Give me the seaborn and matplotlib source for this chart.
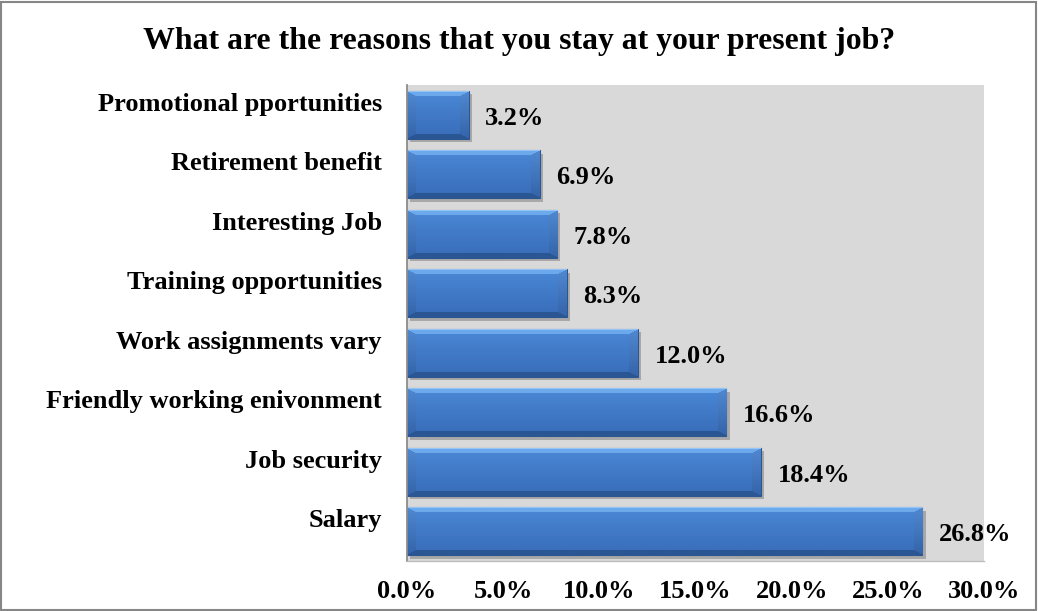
import numpy as np
import pandas as pd
import matplotlib
matplotlib.use("Agg")
import matplotlib.pyplot as plt
import matplotlib.patheffects as pe
from matplotlib.transforms import ScaledTranslation
from matplotlib.patches import Rectangle
import seaborn as sns

# Survey results
reasons = [
    "Promotional pportunities",
    "Retirement benefit",
    "Interesting Job",
    "Training opportunities",
    "Work assignments vary",
    "Friendly working enivonment",
    "Job security",
    "Salary",
]
shares = [3.2, 6.9, 7.8, 8.3, 12.0, 16.6, 18.4, 26.8]
x_ticks = [0, 5, 10, 15, 20, 25, 30]
x_tick_labels = ["0.0%", "5.0%", "10.0%", "15.0%", "20.0%", "25.0%", "30.0%"]

df = pd.DataFrame({"reason": reasons, "share": shares})

sns.set_style("white")
plt.rcParams["font.family"] = ["Liberation Serif", "DejaVu Serif"]
plt.rcParams["font.weight"] = "bold"
plt.rcParams["text.color"] = "black"
plt.rcParams["xtick.color"] = "black"
plt.rcParams["ytick.color"] = "black"

W, H = 1038, 611
LABEL_SIZE = 19
fig = plt.figure(figsize=(W / 100, H / 100), dpi=100)
ax = fig.add_axes([407 / W, 1 - 561 / H, (984 - 407) / W, (561 - 85) / H])
ax.set_facecolor("#D9D9D9")

sns.barplot(data=df, x="share", y="reason", orient="h", width=0.8,
            color="#4079C6", edgecolor="#2B568F", linewidth=0.8,
            saturation=1, ax=ax)

ax.set_xlim(0, 30)
ax.set_ylim(7.5, -0.5)
ax.set_xlabel("")
ax.set_ylabel("")
ax.set_xticks(x_ticks)
ax.set_xticklabels(x_tick_labels)
ax.tick_params(axis="x", length=0, pad=14, labelsize=LABEL_SIZE, labelcolor="black")
ax.tick_params(axis="y", length=0, pad=18, labelsize=LABEL_SIZE, labelcolor="black")
for lab in ax.get_xticklabels() + ax.get_yticklabels():
    lab.set_fontweight("bold")
# category names sit a little above their bars
for lab in ax.get_yticklabels():
    lab.set_transform(lab.get_transform() + ScaledTranslation(0, 0.13, fig.dpi_scale_trans))

for side in ["top", "right"]:
    ax.spines[side].set_visible(False)
ax.spines["left"].set_color("#8C8C8C")
ax.spines["left"].set_linewidth(1.3)
ax.spines["bottom"].set_color("#BDBDBD")
ax.spines["bottom"].set_linewidth(1.0)


def bevel_image(wpx, hpx):
    """RGB image of a bevelled bar face."""
    wpx = max(int(round(wpx)), 2)
    hpx = max(int(round(hpx)), 2)
    r = np.arange(hpx)[:, None] * np.ones((1, wpx))
    c = np.ones((hpx, 1)) * np.arange(wpx)[None, :]
    dt = r / 5.0
    db = (hpx - 1 - r) / 5.0
    dr = (wpx - 1 - c) / 9.0
    dl = c / 9.0
    m = np.minimum(np.minimum(dt, db), np.minimum(dr, dl))
    t = (r / (hpx - 1))[..., None]
    top_face = np.array([74, 136, 214]) / 255
    bot_face = np.array([56, 108, 184]) / 255
    img = top_face * (1 - t) + bot_face * t
    face = m >= 1
    top = (~face) & (dt <= db) & (dt <= dr) & (dt <= dl)
    bot = (~face) & (~top) & (db <= dr) & (db <= dl)
    side = (~face) & (~top) & (~bot)
    img[top] = np.array([108, 170, 236]) / 255
    img[bot] = np.array([42, 86, 148]) / 255
    rt = t[..., 0]
    side_col = (np.array([80, 136, 208]) / 255)[None, None, :] * (1 - rt[..., None]) + \
               (np.array([52, 100, 170]) / 255)[None, None, :] * rt[..., None]
    img[side] = side_col[side]
    # bright rim along the top edge
    img[0, :] = np.array([150, 198, 248]) / 255
    return img


px_per_unit = (984 - 407) / 30
bar_h_px = 0.8 * (561 - 85) / 8
for patch in ax.patches:
    x0, y0 = patch.get_x(), patch.get_y()
    w, h = patch.get_width(), patch.get_height()
    patch.set_path_effects([
        pe.SimplePatchShadow(offset=(2.5, -2.5), shadow_rgbFace="#6E6E6E", alpha=0.45),
        pe.Normal(),
    ])
    img = bevel_image(w * px_per_unit, bar_h_px)
    im = ax.imshow(img, extent=(x0, x0 + w, y0 + h, y0), aspect="auto",
                   interpolation="bilinear", zorder=patch.get_zorder() + 0.1)
    im.set_clip_path(patch)

ax.set_xlim(0, 30)
ax.set_ylim(7.5, -0.5)

labels = ax.bar_label(ax.containers[0], labels=[f"{v:.1f}%" for v in shares],
                      padding=12, fontsize=LABEL_SIZE, fontweight="bold", color="black")
for ann in labels:
    ann.xyann = (12, -2.5)

fig.text(0.5, 1 - 42 / H, "What are the reasons that you stay at your present job?",
         ha="center", va="center", fontsize=22.9, fontweight="bold", color="black")

fig.add_artist(Rectangle((0.001, 0.0015), 0.997, 0.996, transform=fig.transFigure,
                         fill=False, edgecolor="#868686", linewidth=1.5))

fig.savefig("out.png", dpi=100)
